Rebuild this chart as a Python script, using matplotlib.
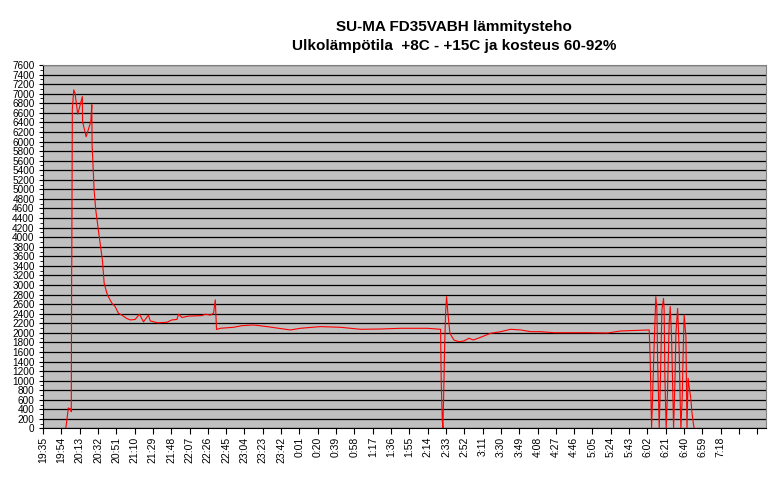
import matplotlib
matplotlib.use("Agg")
import matplotlib.pyplot as plt
from matplotlib.ticker import MultipleLocator

plt.rcParams["font.family"] = ["Liberation Sans", "DejaVu Sans"]

# minutes after 19:35 and heating power (W)
minutes = [
    0, 23.6, 26.3, 28.8, 29.3, 29.7, 29.8, 30.4, 31.9, 33.2, 36.0, 40.8, 41.0,
    44.7, 49.6, 50.6, 50.9, 53.0, 54.7, 57.4, 61.6, 63.4, 66.2, 67.8, 71.4,
    74.8, 78.2, 81.8, 86.9, 90.4, 95.6, 100.0, 104.2, 109.4, 111.2, 118.7,
    128.5, 133.7, 138.9, 140.6, 144.1, 150.9, 164.9, 168.3, 173.5, 176.9,
    178.7, 179.4, 180.0, 183.9, 197.7, 206.4, 218.5, 232.4, 256.6, 267.0,
    287.7, 308.5, 329.3, 350.1, 370.9, 398.6, 412.4, 413.1, 414.2, 414.8,
    415.8, 416.6, 417.6, 418.6, 420.0, 422.1, 426.2, 431.4, 436.6, 441.8,
    446.4, 454.0, 464.3, 474.7, 485.1, 495.5, 505.9, 516.3, 530.1, 564.8,
    585.6, 599.4, 628.8, 629.8, 631.3, 632.3, 634.0, 635.7, 636.8, 637.5,
    639.2, 640.2, 642.0, 643.7, 644.3, 645.1, 646.4, 647.9, 649.5, 650.6,
    652.0, 653.4, 654.1, 655.5, 656.5, 658.3, 659.9, 661.0, 661.7, 663.1,
    664.1, 665.1, 666.9, 668.0, 669.2, 670.3, 672.1, 673.1, 674.5, 675.5,
]
power = [
    None, 0, 430, 400, 350, 3350, 3360, 6680, 7080, 7010, 6570, 6940, 6420,
    6100, 6420, 6770, 5930, 4990, 4570, 4150, 3520, 3040, 2830, 2756, 2620,
    2550, 2410, 2370, 2300, 2270, 2280, 2390, 2230, 2370, 2250, 2210,
    2220, 2270, 2280, 2390, 2320, 2350, 2360, 2390, 2370, 2410,
    2690, 2340, 2070, 2095, 2116, 2150, 2164, 2130, 2060, 2095,
    2130, 2116, 2074, 2080, 2095, 2095, 2074, 945, 178, 0,
    874, 1710, 2410, 2756, 2410, 1990, 1850, 1815, 1830, 1886,
    1850, 1907, 1990, 2024, 2074, 2060, 2024, 2024, 2003, 2003,
    1997, 2039, 2060, 1500, 0, 665, 1780, 2756, 2480, 1500,
    0, 805, 2480, 2720, 2480, 1080, 0, 805, 2200, 2550,
    1920, 665, 0, 945, 1990, 2510, 1640, 527, 0, 665,
    1640, 2370, 1920, 0, 1050, 870, 600, 350, 120, 0,
]

tick_labels = [
    "19:35", "19:54", "20:13", "20:32", "20:51", "21:10", "21:29", "21:48",
    "22:07", "22:26", "22:45", "23:04", "23:23", "23:42", "0:01", "0:20",
    "0:39", "0:58", "1:17", "1:36", "1:55", "2:14", "2:33", "2:52", "3:11",
    "3:30", "3:49", "4:08", "4:27", "4:46", "5:05", "5:24", "5:43", "6:02",
    "6:21", "6:40", "6:59", "7:18", "", "",
]

fig = plt.figure(figsize=(7.78, 4.78), dpi=100)
ax = fig.add_axes([0.0553, 0.1036, 0.9293, 0.7604])
ax.set_facecolor("#C0C0C0")

x = [m for m, p in zip(minutes, power) if p is not None]
y = [p for p in power if p is not None]
ax.plot(x, y, color="#FF0000", lw=0.8)

ax.set_xlim(0, 750)
ax.set_ylim(0, 7600)
ax.yaxis.set_major_locator(MultipleLocator(200))
ax.yaxis.set_minor_locator(MultipleLocator(100))
ax.grid(axis="y", which="major", color="black", lw=0.9)
ax.set_axisbelow(True)

ax.set_xticks([19 * i for i in range(len(tick_labels))])
ax.set_xticklabels(tick_labels, rotation=90, fontsize=7.5)
ax.tick_params(axis="y", labelsize=7.2, length=3, pad=3)
ax.tick_params(axis="y", which="minor", length=2)
ax.tick_params(axis="x", length=4, pad=2)
for s in ax.spines.values():
    s.set_color("#808080")
    s.set_linewidth(0.8)
ax.spines["left"].set_color("black")
ax.spines["bottom"].set_color("black")

fig.text(0.584, 0.943, "SU-MA FD35VABH lämmitysteho", ha="center", va="center",
         fontsize=11, fontweight="bold")
fig.text(0.584, 0.903, "Ulkolämpötila  +8C - +15C ja kosteus 60-92%", ha="center",
         va="center", fontsize=11, fontweight="bold")

fig.savefig("out.png", dpi=100)
